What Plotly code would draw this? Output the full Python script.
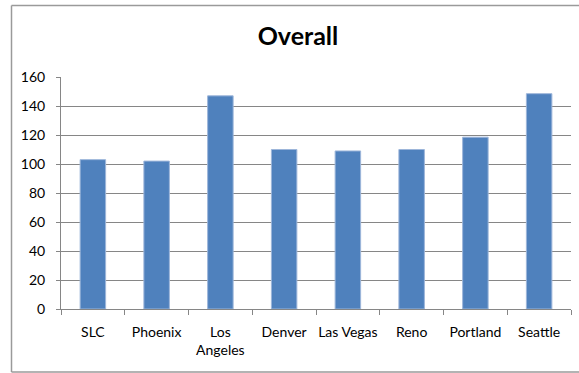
import plotly.graph_objects as go

# City scores shown on the "Overall" chart
cities = ["SLC", "Phoenix", "Los<br>Angeles", "Denver", "Las Vegas", "Reno", "Portland", "Seattle"]
scores = [103, 102, 147, 110, 109, 110, 118.5, 148.5]
y_ticks = [0, 20, 40, 60, 80, 100, 120, 140, 160]

W, H = 579, 373
L, R, T, B = 61, 8, 77, 64
plot_w = W - L - R
plot_h = H - T - B


def px_x(px):
    return (px - L) / plot_w


def px_y(py):
    return (H - B - py) / plot_h


grid = "#868686"
frame = "#9a9a9a"
font = "Lato, 'Open Sans', sans-serif"

fig = go.Figure(
    go.Bar(
        x=cities,
        y=scores,
        width=0.4,
        marker=dict(color="#4F81BD", line=dict(color="#9DB6DA", width=1)),
        hoverinfo="x+y",
    )
)

# Chart-area frame: top, left and bottom edges (the right edge runs off the page)
x_left, x_right = px_x(11.5), px_x(579)
y_top, y_bottom = px_y(5.5), px_y(372)
frame_lines = [
    (x_left, y_top, x_right, y_top),
    (x_left, y_bottom, x_left, y_top),
    (x_left, y_bottom, x_right, y_bottom),
]
shapes = [
    dict(type="line", xref="paper", yref="paper", x0=a, y0=b, x1=c, y1=d,
         line=dict(color=frame, width=1.5), layer="below")
    for a, b, c, d in frame_lines
]

fig.update_layout(
    width=W,
    height=H,
    margin=dict(l=L, r=R, t=T, b=B, autoexpand=False),
    paper_bgcolor="white",
    plot_bgcolor="white",
    showlegend=False,
    font=dict(family=font, size=14, color="#000000"),
    title=dict(
        text="<b>Overall</b>",
        x=px_x(298), xref="paper", xanchor="center",
        y=1 - 36 / H, yref="container", yanchor="middle",
        font=dict(family=font, size=25, color="#000000"),
    ),
    bargap=0.6,
    shapes=shapes,
)

fig.update_xaxes(
    type="category",
    showline=True, linecolor=grid, linewidth=1,
    ticks="outside", tickson="boundaries", ticklen=5, tickcolor=grid,
    showgrid=False,
    tickangle=0, automargin=False,
    ticklabelstandoff=10,
    tickfont=dict(family=font, size=14, color="#000000"),
)

fig.update_yaxes(
    range=[0, 160],
    tickvals=y_ticks,
    showline=True, linecolor=grid, linewidth=1,
    ticks="outside", ticklen=4, tickcolor=grid,
    showgrid=True, gridcolor=grid, gridwidth=1,
    zeroline=False, automargin=False,
    ticklabelstandoff=8,
    tickfont=dict(family=font, size=14, color="#000000"),
)

# Keep the page from scrolling so the figure fills the window exactly
fig.write_html(
    "out.html",
    config={"displayModeBar": False},
    post_script="document.documentElement.style.overflow='hidden';document.body.style.overflow='hidden';document.body.style.margin='0';",
)
